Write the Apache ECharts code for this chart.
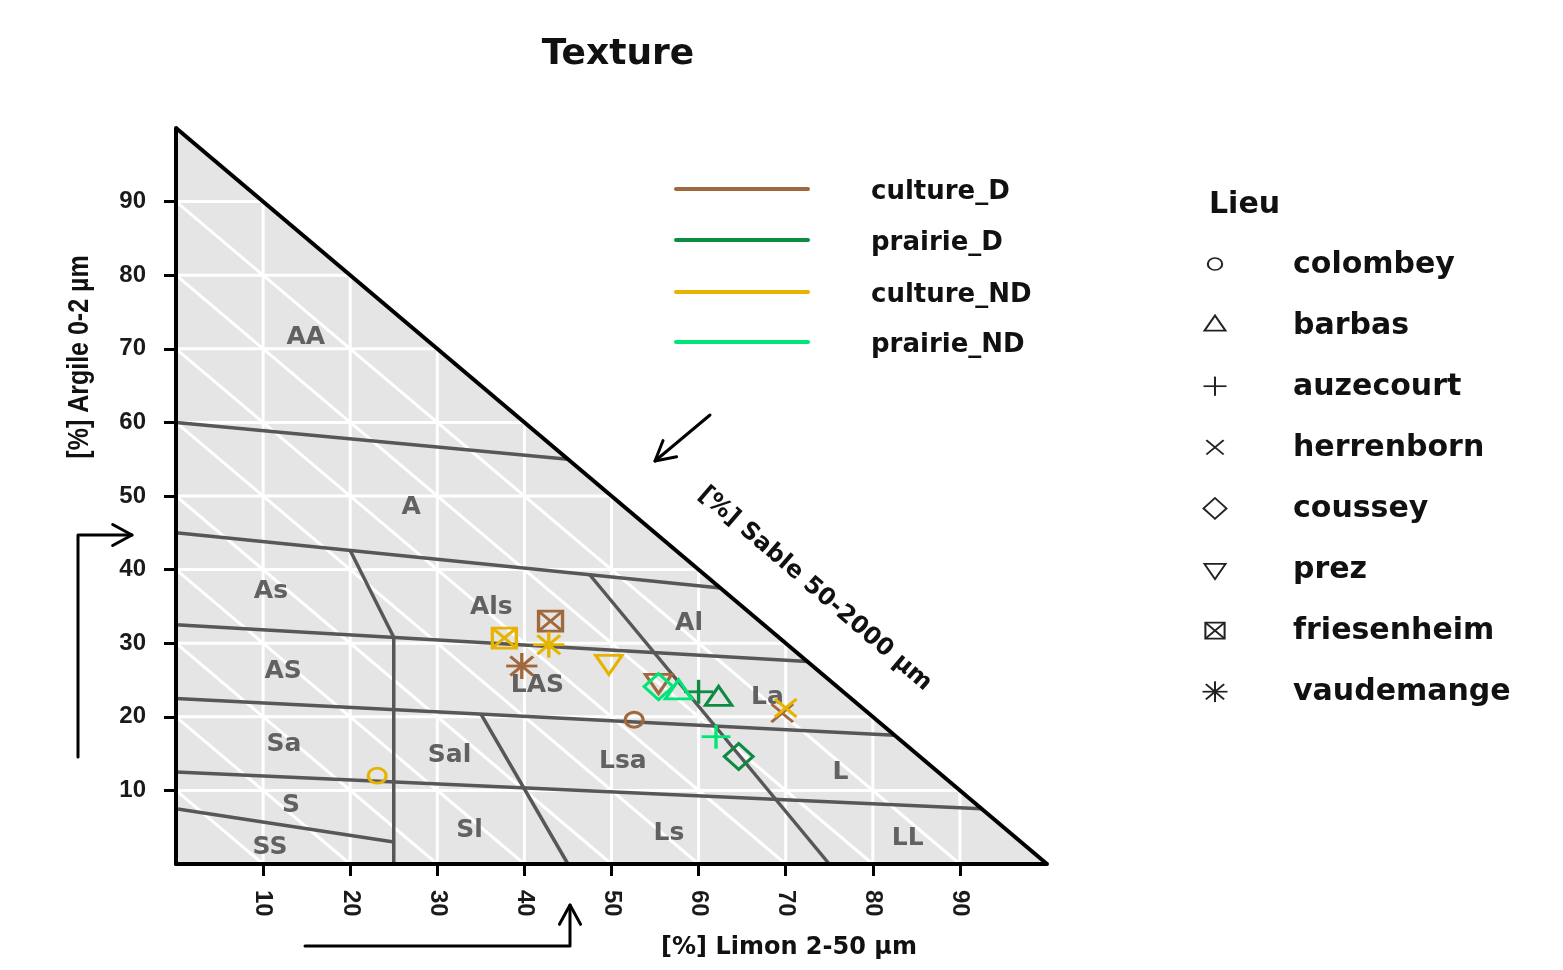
<!DOCTYPE html>
<html>
<head>
<meta charset="utf-8">
<script src="https://cdn.jsdelivr.net/npm/echarts@6/dist/echarts.min.js"></script>
<style>html,body{margin:0;padding:0;background:#fff}#chart{width:1563px;height:970px}</style>
</head>
<body>
<div id="chart"></div>
<script>
// ---------- DATA ----------
const tickValues = [10, 20, 30, 40, 50, 60, 70, 80, 90];
const gridSteps = [10, 20, 30, 40, 50, 60, 70, 80, 90];
const triangleEdge = [[0, 100], [100, 0]];

// texture class boundaries (limon, argile)
const boundaryLines = [
  [[0, 60], [45, 55]],
  [[0, 45], [62.5, 37.5]],
  [[0, 32.5], [72.5, 27.5]],
  [[0, 22.5], [82.5, 17.5]],
  [[0, 12.5], [92.5, 7.5]],
  [[0, 7.5], [25, 3]],
  [[20, 42.6], [25, 30.8], [25, 0]],
  [[35, 20.4], [45, 0]],
  [[47.5, 39.3], [75, 0]]
];

const classNames  = ['AA', 'A', 'As', 'Als', 'Al', 'AS', 'LAS', 'La', 'Sa', 'Sal', 'Lsa', 'L', 'S', 'Sl', 'Ls', 'LL', 'SS'];
const classLimon  = [14.9, 27.0, 10.9, 36.2, 58.9, 12.3, 41.5, 67.9, 12.4, 31.4, 51.3, 76.3, 13.2, 33.7, 56.6, 84.0, 10.8];
const classArgile = [71.5, 48.5, 37.0, 34.9, 32.7, 26.1, 24.2, 22.6, 16.3, 14.8, 13.9, 12.5, 8.0, 4.5, 4.2, 3.5, 2.2];

const sites = ['colombey', 'barbas', 'auzecourt', 'herrenborn', 'coussey', 'prez', 'friesenheim', 'vaudemange'];
const groups = ['culture_D', 'prairie_D', 'culture_ND', 'prairie_ND'];

const cultureD_site   = ['friesenheim', 'vaudemange', 'prez', 'colombey', 'herrenborn'];
const cultureD_limon  = [43.0, 39.7, 55.4, 52.6, 69.6];
const cultureD_argile = [33.0, 26.9, 24.8, 19.6, 20.5];

const prairieD_site   = ['barbas', 'auzecourt', 'coussey'];
const prairieD_limon  = [62.3, 60.0, 64.6];
const prairieD_argile = [22.5, 23.4, 14.6];

const cultureND_site   = ['friesenheim', 'vaudemange', 'prez', 'colombey', 'herrenborn'];
const cultureND_limon  = [37.7, 42.8, 49.7, 23.1, 70.0];
const cultureND_argile = [30.7, 29.8, 27.4, 12.0, 21.2];

const prairieND_site   = ['coussey', 'barbas', 'auzecourt'];
const prairieND_limon  = [55.4, 57.7, 62.0];
const prairieND_argile = [24.1, 23.4, 17.3];

// ---------- STYLE ----------
const groupColors = ['#a0683c', '#0f8a43', '#e6b400', '#00e676'];
const groupData = [
  [cultureD_site, cultureD_limon, cultureD_argile],
  [prairieD_site, prairieD_limon, prairieD_argile],
  [cultureND_site, cultureND_limon, cultureND_argile],
  [prairieND_site, prairieND_limon, prairieND_argile]
];
const BOLD = 'DejaVu Sans';

function markerEls(site, color, s, lw) {
  const st = () => ({ stroke: color, lineWidth: lw, fill: null });
  const L = (x1, y1, x2, y2) => ({ type: 'line', shape: { x1: x1 * s, y1: y1 * s, x2: x2 * s, y2: y2 * s }, style: st() });
  const P = (pts) => ({ type: 'polygon', shape: { points: pts.map(p => [p[0] * s, p[1] * s]) }, style: st() });
  switch (site) {
    case 'colombey': return [{ type: 'circle', shape: { cx: 0, cy: 0, r: 7.5 * s }, style: st() }];
    case 'barbas': return [P([[0, -12], [11, 7], [-11, 7]])];
    case 'auzecourt': return [L(-12, 0, 12, 0), L(0, -12, 0, 12)];
    case 'herrenborn': return [L(-9, -9, 9, 9), L(-9, 9, 9, -9)];
    case 'coussey': return [P([[0, -13], [12, 0], [0, 13], [-12, 0]])];
    case 'prez': return [P([[0, 12], [11, -7], [-11, -7]])];
    case 'friesenheim': return [{ type: 'rect', shape: { x: -10 * s, y: -10 * s, width: 20 * s, height: 20 * s }, style: st() }, L(-10, -10, 10, 10), L(-10, 10, 10, -10)];
    case 'vaudemange': return [L(-13, 0, 13, 0), L(0, -13, 0, 13), L(-9.5, -9.5, 9.5, 9.5), L(-9.5, 9.5, 9.5, -9.5)];
  }
  return [];
}

// grid segments built from the steps
const gridSegments = [];
gridSteps.forEach(v => {
  gridSegments.push([v, 0, v, 100 - v]);      // constant limon
  gridSegments.push([0, v, 100 - v, v]);      // constant argile
  gridSegments.push([0, v, v, 0]);            // constant sable
});

const series = [];
// background triangle
series.push({
  type: 'line', data: triangleEdge, symbol: 'none', silent: true, z: 1,
  lineStyle: { opacity: 0 }, areaStyle: { color: '#e5e5e5', opacity: 1 }
});
// white grid
series.push({
  type: 'custom', silent: true, z: 2, data: gridSegments,
  renderItem: (params, api) => {
    const a = api.coord([api.value(0), api.value(1)]);
    const b = api.coord([api.value(2), api.value(3)]);
    return { type: 'line', shape: { x1: a[0], y1: a[1], x2: b[0], y2: b[1] }, style: { stroke: '#ffffff', lineWidth: 3 } };
  }
});
// class boundaries
boundaryLines.forEach(line => {
  series.push({
    type: 'line', data: line, symbol: 'none', silent: true, z: 3,
    lineStyle: { color: '#575757', width: 3.5 }
  });
});
// hypotenuse
series.push({
  type: 'line', data: triangleEdge, symbol: 'none', silent: true, z: 4,
  lineStyle: { color: '#000', width: 4 }
});
// class labels
series.push({
  type: 'custom', silent: true, z: 5,
  data: classNames.map((n, i) => [classLimon[i], classArgile[i], i]),
  renderItem: (params, api) => {
    const p = api.coord([api.value(0), api.value(1)]);
    return {
      type: 'text', x: p[0], y: p[1],
      style: { text: classNames[api.value(2)], fill: '#636060', font: 'bold 25px "DejaVu Sans"',
        align: 'center', verticalAlign: 'middle', textAlign: 'center', textVerticalAlign: 'middle' }
    };
  }
});
// points
groups.forEach((g, gi) => {
  const [st, lx, ay] = groupData[gi];
  series.push({
    name: g, type: 'custom', z: 6 + gi,
    data: st.map((s, i) => [lx[i], ay[i], sites.indexOf(s)]),
    encode: { x: 0, y: 1 },
    renderItem: (params, api) => {
      const p = api.coord([api.value(0), api.value(1)]);
      return { type: 'group', x: p[0], y: p[1], scaleX: 1.2, children: markerEls(sites[api.value(2)], groupColors[gi], 1, 2.8) };
    }
  });
});

// ---------- DECORATIONS (legends, axis titles, arrows) ----------
function arrow(points, headLen) {
  const n = points.length;
  const [x2, y2] = points[n - 1];
  const [x1, y1] = points[n - 2];
  const ang = Math.atan2(y2 - y1, x2 - x1);
  const a1 = ang + Math.PI - 0.5, a2 = ang + Math.PI + 0.5;
  const style = () => ({ stroke: '#000', lineWidth: 3, fill: null, lineJoin: 'round', lineCap: 'round' });
  return [
    { type: 'polyline', shape: { points: points }, style: style() },
    { type: 'polyline', shape: { points: [[x2 + headLen * Math.cos(a1), y2 + headLen * Math.sin(a1)], [x2, y2], [x2 + headLen * Math.cos(a2), y2 + headLen * Math.sin(a2)]] }, style: style() }
  ];
}
const graphics = [];
// line legend
const lineLegendY = [189, 240, 292, 342];
groups.forEach((g, i) => {
  graphics.push({ type: 'line', shape: { x1: 676, y1: lineLegendY[i], x2: 808, y2: lineLegendY[i] }, style: { stroke: groupColors[i], lineWidth: 4, lineCap: 'round' } });
  graphics.push({ type: 'text', x: 871, y: lineLegendY[i] + 3, style: { text: g, fill: '#111', font: 'bold 26px "DejaVu Sans"', align: 'left', verticalAlign: 'middle', textAlign: 'left', textVerticalAlign: 'middle' } });
});
// Lieu legend
graphics.push({ type: 'text', x: 1209, y: 205, style: { text: 'Lieu', fill: '#111', font: 'bold 30px "DejaVu Sans"', align: 'left', verticalAlign: 'middle', textAlign: 'left', textVerticalAlign: 'middle' } });
sites.forEach((s, i) => {
  const y = 264 + 61.1 * i;
  graphics.push({ type: 'group', x: 1215, y: y, scaleX: 1.2, children: markerEls(s, '#222', 0.8, 1.7) });
  graphics.push({ type: 'text', x: 1293, y: y + 1, style: { text: s, fill: '#111', font: 'bold 30px "DejaVu Sans"', align: 'left', verticalAlign: 'middle', textAlign: 'left', textVerticalAlign: 'middle' } });
});
// axis titles
graphics.push({ type: 'text', x: 789, y: 948, style: { text: '[%] Limon 2-50 µm', fill: '#111', font: 'bold 24px "DejaVu Sans"', align: 'center', verticalAlign: 'middle', textAlign: 'center', textVerticalAlign: 'middle' } });
graphics.push({ type: 'text', x: 80, y: 357, rotation: Math.PI / 2, scaleY: 1.2, style: { text: '[%] Argile 0-2 µm', fill: '#111', font: 'bold 25px "Liberation Sans"', align: 'center', verticalAlign: 'middle', textAlign: 'center', textVerticalAlign: 'middle' } });
graphics.push({ type: 'text', x: 815, y: 589, rotation: -0.71, style: { text: '[%] Sable 50-2000 µm', fill: '#111', font: 'bold 24px "DejaVu Sans"', align: 'center', verticalAlign: 'middle', textAlign: 'center', textVerticalAlign: 'middle' } });
// arrows
arrow([[78, 757], [78, 535], [132, 535]], 22).forEach(e => graphics.push(e));
arrow([[305, 946], [570, 946], [570, 905]], 22).forEach(e => graphics.push(e));
arrow([[710, 415], [655, 461]], 22).forEach(e => graphics.push(e));

const axisLabelStyle = { color: '#1a1a1a', fontSize: 24, fontWeight: 'bold', fontFamily: 'Liberation Sans' };
const chart = echarts.init(document.getElementById('chart'), null, { renderer: 'canvas' });
chart.setOption({
  backgroundColor: '#ffffff',
  animation: false,
  title: { text: 'Texture', left: 613, top: 32, textAlign: 'center',
    textStyle: { fontFamily: BOLD, fontWeight: 'bold', fontSize: 36, color: '#111' } },
  grid: { left: 176, top: 128, width: 871, height: 736, containLabel: false },
  xAxis: {
    type: 'value', min: 0, max: 100, interval: 10, z: 10,
    axisLine: { show: true, lineStyle: { color: '#000', width: 4 } },
    axisTick: { show: true, customValues: tickValues, length: 12, lineStyle: { color: '#000', width: 3 } },
    axisLabel: Object.assign({ customValues: tickValues, rotate: -90, margin: 26 }, axisLabelStyle),
    splitLine: { show: false }
  },
  yAxis: {
    type: 'value', min: 0, max: 100, interval: 10, z: 10,
    axisLine: { show: true, lineStyle: { color: '#000', width: 4 } },
    axisTick: { show: true, customValues: tickValues, length: 12, lineStyle: { color: '#000', width: 3 } },
    axisLabel: Object.assign({ customValues: tickValues, margin: 30 }, axisLabelStyle),
    splitLine: { show: false }
  },
  series: series,
  graphic: graphics
});
</script>
</body>
</html>
